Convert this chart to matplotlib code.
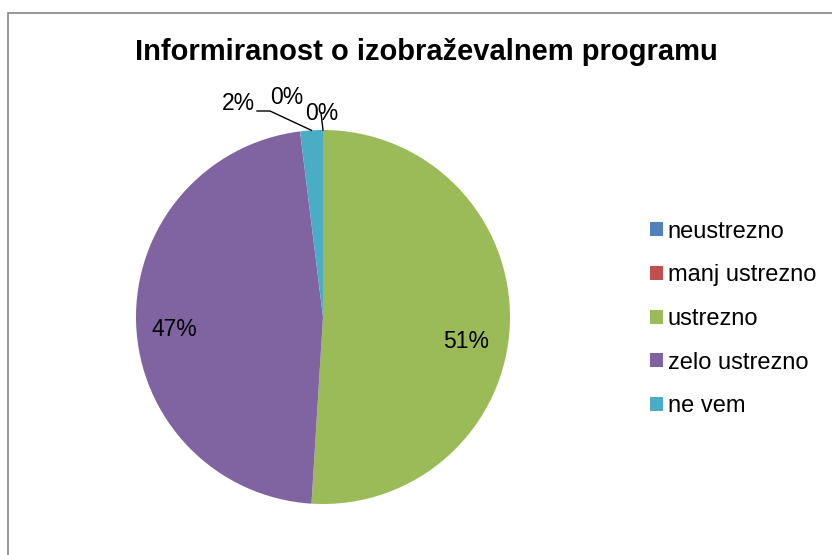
import numpy as np
import matplotlib
matplotlib.use("Agg")
import matplotlib.pyplot as plt
from matplotlib.patches import Rectangle, Patch

categories = ["neustrezno", "manj ustrezno", "ustrezno", "zelo ustrezno", "ne vem"]
counts = [0, 0, 26, 24, 1]
colors = ["#4F81BD", "#C0504D", "#9BBB59", "#8064A2", "#4BACC6"]
title = "Informiranost o izobraževalnem programu"

plt.rcParams['font.family'] = ['Liberation Sans', 'DejaVu Sans']

W, H = 832, 555
fig = plt.figure(figsize=(W / 100, H / 100), dpi=100)

# chart frame
fig.patches.append(Rectangle((8 / W, -0.1), 1.2, (H - 13) / H + 0.1,
                             transform=fig.transFigure, fill=False,
                             edgecolor="#868686", linewidth=1.2))

cx, cy, R = 323, 317, 187
ax = fig.add_axes([(cx - R) / W, (H - cy - R) / H, 2 * R / W, 2 * R / H])
wedges, _ = ax.pie(counts, colors=colors, startangle=90, counterclock=False,
                   radius=1.0)
ax.set_xlim(-1, 1)
ax.set_ylim(-1, 1)
ax.set_aspect('equal')
ax.axis('off')

total = sum(counts)
pct = [f"{round(100 * c / total):.0f}%" for c in counts]

def px(x, y):
    return ((x - cx) / R, (cy - y) / R)

label_pos = [px(287, 97), px(322, 114), px(466, 342), px(174, 330), px(238, 104)]
for s, (x, y) in zip(pct, label_pos):
    ax.text(x, y, s, ha='center', va='center', fontsize=16.5, clip_on=False)

def mid(w):
    a = np.deg2rad((w.theta1 + w.theta2) / 2)
    return np.cos(a), np.sin(a)

# leader lines
mx, my = mid(wedges[4])
p1 = px(257, 111); p2 = px(270, 111)
ax.plot([p1[0], p2[0], mx], [p1[1], p2[1], my], color='black', lw=1, clip_on=False)
mx0, my0 = mid(wedges[1])
q = px(321, 113)
ax.plot([q[0], mx0], [q[1], my0], color='black', lw=1, clip_on=False)

fig.text(426 / W, 1 - 52 / H, title, ha='center', va='center',
         fontsize=21, fontweight='bold')

handles = [Patch(facecolor=c, edgecolor='none') for c in colors]
fig.legend(handles, categories, loc='center left',
           bbox_to_anchor=(650 / W, (H - 319) / H), frameon=False,
           fontsize=17, handlelength=0.55, handleheight=0.55,
           handletextpad=0.2, labelspacing=0.92, borderpad=0, borderaxespad=0)

fig.savefig("out.png", dpi=100)
